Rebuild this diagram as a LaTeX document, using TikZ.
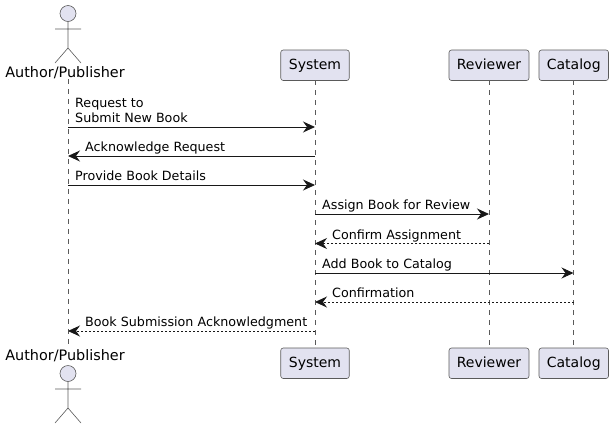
\documentclass[tikz,border=0pt]{standalone}
\usepackage{fontspec}
\setmainfont{DejaVu Sans}
\usetikzlibrary{arrows.meta}
\definecolor{boxfill}{HTML}{E2E2F0}
\definecolor{boxline}{HTML}{181818}
\definecolor{thinline}{HTML}{5A5A5A}

\begin{document}
\begin{tikzpicture}[
    x=1pt, y=-1pt,
    font=\fontsize{12.7}{15}\selectfont,
    box/.style={ draw=thinline,
      fill=boxfill,
      line width=0.6pt,
      rounded corners=2.5pt,
      anchor=center,
      align=center,
      inner sep=0pt,
      text height=10.5pt,
      text depth=3pt,
      font=\fontsize{14}{16}\selectfont,
      minimum height=30.5pt},
    name label/.style={inner sep=0pt, anchor=center, font=\fontsize{14.4}{16}\selectfont},
    lifeline/.style={draw=thinline, line width=0.6pt, dash pattern=on 5pt off 5pt},
    limb/.style={draw=thinline, line width=0.6pt},
    head/.style={circle, draw=thinline, fill=boxfill, line width=0.6pt, minimum size=16pt, inner sep=0pt},
    call/.style={-{Stealth[length=12pt,width=11pt,inset=4pt]}, draw=boxline, line width=0.9pt},
    answer/.style={call, dash pattern=on 2pt off 2pt},
    msg/.style={inner sep=0pt, anchor=base west, align=left, yshift=4.5pt}]
    \useasboundingbox (0,0) rectangle (613,429);

    % lifelines first, boxes go on top
    \coordinate (authorTop) at (68,79);
    \coordinate (authorBot) at (68,347);
    \coordinate (systemTop) at (315,80);
    \coordinate (systemBot) at (315,348);
    \coordinate (reviewerTop) at (489,80);
    \coordinate (reviewerBot) at (489,348);
    \coordinate (catalogTop) at (573.5,80);
    \coordinate (catalogBot) at (573.5,348);
    \foreach \who in {author,system,reviewer,catalog}
      \draw[lifeline] (\who Top) -- (\who Bot);

    \node[box, minimum width=68.5pt] (systemA) at (315,65.25) {System};
    \node[box, minimum width=80pt] (reviewerA) at (489,65.25) {Reviewer};
    \node[box, minimum width=69.5pt] (catalogA) at (573.75,65.25) {Catalog};
    \node[box, minimum width=68.5pt] (systemB) at (315,363.25) {System};
    \node[box, minimum width=80pt] (reviewerB) at (489,363.25) {Reviewer};
    \node[box, minimum width=69.5pt] (catalogB) at (573.75,363.25) {Catalog};

    % actors
    \node[name label] (authorA) at (65,73) {Author/Publisher};
    \node[name label] (authorB) at (65,356) {Author/Publisher};
    \node[head] (headA) at (68,13.5) {};
    \node[head] (headB) at (68,373.5) {};
    \draw[limb] (headA.south) -- (68,48) -- (55,63) (68,48) -- (81,63) (55,29) -- (81,29);
    \draw[limb] (headB.south) -- (68,408) -- (55,423) (68,408) -- (81,423) (55,389) -- (81,389);

    % one point per message on each lifeline
    \foreach \row/\ypos in {1/127,2/156,3/185,4/214,5/243.5,6/273,7/302,8/331} {
      \coordinate (A\row) at (68,\ypos);
      \coordinate (S\row) at (315,\ypos);
      \coordinate (R\row) at (489,\ypos);
      \coordinate (C\row) at (573.5,\ypos);
    }

    \draw[call] (A1) -- (S1);
    \node[msg, xshift=7pt] (m1) at (A1) {Request to\\Submit New Book};
    \draw[call] (S2) -- (A2);
    \node[msg, xshift=17pt] (m2) at (A2) {Acknowledge Request};
    \draw[call] (A3) -- (S3);
    \node[msg, xshift=7pt] (m3) at (A3) {Provide Book Details};
    \draw[call] (S4) -- (R4);
    \node[msg, xshift=7pt] (m4) at (S4) {Assign Book for Review};
    \draw[answer] (R5) -- (S5);
    \node[msg, xshift=17pt] (m5) at (S5) {Confirm Assignment};
    \draw[call] (S6) -- (C6);
    \node[msg, xshift=7pt] (m6) at (S6) {Add Book to Catalog};
    \draw[answer] (C7) -- (S7);
    \node[msg, xshift=17pt] (m7) at (S7) {Confirmation};
    \draw[answer] (S8) -- (A8);
    \node[msg, xshift=17pt] (m8) at (A8) {Book Submission Acknowledgment};
\end{tikzpicture}
\end{document}
